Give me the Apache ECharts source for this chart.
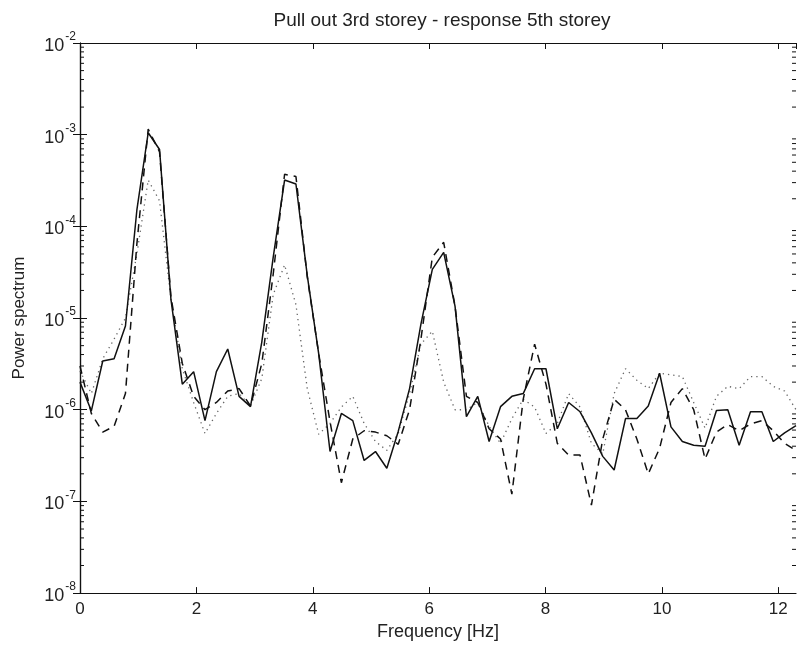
<!DOCTYPE html>
<html>
<head>
<meta charset="utf-8">
<script src="https://cdn.jsdelivr.net/npm/echarts@6/dist/echarts.min.js"></script>
<style>html,body{margin:0;padding:0;background:#fff}#c{width:798px;height:646px}</style>
</head>
<body>
<div id="c"></div>
<script>
// Frequency bins [Hz]
var freq = [0, 0.195, 0.391, 0.586, 0.781, 0.977, 1.172, 1.367, 1.563, 1.758,
  1.953, 2.148, 2.344, 2.539, 2.734, 2.930, 3.125, 3.320, 3.516, 3.711,
  3.906, 4.102, 4.297, 4.492, 4.688, 4.883, 5.078, 5.273, 5.469, 5.664,
  5.859, 6.055, 6.250, 6.445, 6.641, 6.836, 7.031, 7.227, 7.422, 7.617,
  7.813, 8.008, 8.203, 8.398, 8.594, 8.789, 8.984, 9.180, 9.375, 9.570,
  9.766, 9.961, 10.156, 10.352, 10.547, 10.742, 10.938, 11.133, 11.328, 11.523,
  11.719, 11.914, 12.109, 12.305];

// Solid line
var solid = [2.0e-6, 9.7e-7, 3.4e-6, 3.6e-6, 8.2e-6, 1.5e-4, 1.05e-3, 6.9e-4, 1.6e-5, 1.9e-6,
  2.6e-6, 7.6e-7, 2.6e-6, 4.6e-6, 1.4e-6, 1.08e-6, 5.5e-6, 4.6e-5, 3.2e-4, 2.9e-4,
  2.9e-5, 4.1e-6, 3.5e-7, 9.1e-7, 7.6e-7, 2.8e-7, 3.5e-7, 2.3e-7, 5.8e-7, 1.7e-6,
  8.6e-6, 3.4e-5, 5.2e-5, 1.35e-5, 8.4e-7, 1.4e-6, 4.5e-7, 1.08e-6, 1.4e-6, 1.5e-6,
  2.8e-6, 2.8e-6, 6.2e-7, 1.2e-6, 9.5e-7, 5.6e-7, 3.1e-7, 2.2e-7, 8.0e-7, 8.0e-7,
  1.1e-6, 2.5e-6, 6.5e-7, 4.5e-7, 4.1e-7, 4.0e-7, 9.8e-7, 1.0e-6, 4.1e-7, 9.5e-7,
  9.5e-7, 4.5e-7, 5.6e-7, 6.7e-7];

// Dashed line
var dashed = [3.0e-6, 9.1e-7, 5.7e-7, 6.6e-7, 1.5e-6, 6.4e-5, 1.15e-3, 6.5e-4, 1.7e-5, 3.2e-6,
  1.4e-6, 1.0e-6, 1.2e-6, 1.6e-6, 1.7e-6, 1.1e-6, 3.2e-6, 3.0e-5, 3.7e-4, 3.5e-4,
  2.8e-5, 4.1e-6, 7.4e-7, 1.6e-7, 4.8e-7, 5.9e-7, 5.7e-7, 5.2e-7, 4.2e-7, 1.0e-6,
  5.9e-6, 4.6e-5, 6.7e-5, 1.35e-5, 1.4e-6, 1.2e-6, 6.2e-7, 4.8e-7, 1.2e-7, 1.3e-6,
  5.2e-6, 1.9e-6, 4.3e-7, 3.2e-7, 3.2e-7, 9.1e-8, 4.8e-7, 1.3e-6, 1.0e-6, 4.8e-7,
  2.0e-7, 3.8e-7, 1.2e-6, 1.7e-6, 1.0e-6, 2.9e-7, 5.7e-7, 6.9e-7, 5.9e-7, 7.0e-7,
  7.6e-7, 5.9e-7, 4.3e-7, 3.6e-7];

// Dotted line
var dotted = [2.65e-6, 1.5e-6, 3.6e-6, 5.9e-6, 1.0e-5, 5.0e-5, 3.2e-4, 1.9e-4, 1.6e-5, 2.8e-6,
  1.2e-6, 5.5e-7, 9.1e-7, 1.4e-6, 1.5e-6, 1.1e-6, 2.2e-6, 1.8e-5, 3.8e-5, 1.4e-5,
  1.7e-6, 5.4e-7, 7.1e-7, 1.07e-6, 1.4e-6, 7.1e-7, 4.5e-7, 3.6e-7, 5.5e-7, 1.5e-6,
  5.2e-6, 7.2e-6, 2.0e-6, 1.0e-6, 1.0e-6, 1.2e-6, 6.6e-7, 4.3e-7, 8.0e-7, 1.3e-6,
  1.07e-6, 5.5e-7, 7.1e-7, 1.5e-6, 1.07e-6, 4.3e-7, 3.3e-7, 1.5e-6, 2.8e-6, 2.1e-6,
  1.7e-6, 2.5e-6, 2.4e-6, 2.3e-6, 1.2e-6, 6.3e-7, 1.4e-6, 1.8e-6, 1.7e-6, 2.3e-6,
  2.3e-6, 1.8e-6, 1.6e-6, 1.0e-6];

// Axis settings
var xTicks = [0, 2, 4, 6, 8, 10, 12];
var X_MIN = 0, X_MAX = 12.305;
var Y_MIN = 1e-8, Y_MAX = 1e-2;
var minorTickValues = [];
for (var e = -8; e < -2; e++) {
  for (var k = 2; k <= 9; k++) minorTickValues.push(k * Math.pow(10, e));
}

function pairs(ys) { return freq.map(function (f, i) { return [f, ys[i]]; }); }

var FONT = 'Liberation Sans, Arial, Helvetica, sans-serif';
var chart = echarts.init(document.getElementById('c'), null, { renderer: 'canvas' });

chart.setOption({
  backgroundColor: '#fff',
  animation: false,
  title: {
    text: 'Pull out 3rd storey - response 5th storey',
    left: 437, top: 6, textAlign: 'center',
    textStyle: { fontFamily: FONT, fontSize: 19, fontWeight: 'normal', color: '#222' }
  },
  grid: { left: 80, right: 2, top: 43, bottom: 51, containLabel: false },
  xAxis: [{
    type: 'value', min: X_MIN, max: X_MAX, interval: 2,
    name: 'Frequency [Hz]', nameLocation: 'middle', nameGap: 29,
    nameTextStyle: { fontFamily: FONT, fontSize: 18, color: '#222' },
    axisLine: { lineStyle: { color: '#111', width: 1.2 } },
    axisTick: { inside: true, length: 6, lineStyle: { color: '#111' } },
    axisLabel: { fontFamily: FONT, fontSize: 17, color: '#222', margin: 8, showMaxLabel: false },
    splitLine: { show: false }
  }, {
    type: 'value', position: 'top', min: X_MIN, max: X_MAX, interval: 2,
    axisLine: { lineStyle: { color: '#111', width: 1.2 } },
    axisTick: { inside: true, length: 6, lineStyle: { color: '#111' } },
    axisLabel: { show: false }, splitLine: { show: false }
  }],
  yAxis: [{
    type: 'log', logBase: 10, min: Y_MIN, max: Y_MAX,
    name: 'Power spectrum', nameLocation: 'middle', nameGap: 52, nameRotate: 90,
    nameTextStyle: { fontFamily: FONT, fontSize: 17, color: '#222' },
    axisLine: { lineStyle: { color: '#111', width: 1.2 } },
    axisTick: { inside: true, length: 7, lineStyle: { color: '#111' } },
    axisLabel: {
      margin: 4,
      formatter: function (v) { return '{b|10}{s|' + Math.round(Math.log10(v)) + '}'; },
      rich: {
        b: { fontFamily: FONT, fontSize: 18, color: '#222', lineHeight: 24, verticalAlign: 'bottom' },
        s: { fontFamily: FONT, fontSize: 12, color: '#222', lineHeight: 24, verticalAlign: 'top', padding: [0, 0, 0, 1] }
      }
    },
    splitLine: { show: false }
  }, {
    type: 'log', logBase: 10, min: Y_MIN, max: Y_MAX, position: 'right',
    axisLine: { lineStyle: { color: '#111', width: 1.2 } },
    axisTick: { inside: true, length: 7, lineStyle: { color: '#111' } },
    axisLabel: { show: false }, splitLine: { show: false }
  }],
  series: [{
    type: 'custom', silent: true, xAxisIndex: 0, yAxisIndex: 0, clip: false,
    data: minorTickValues.map(function (v) { return [X_MIN, v]; }),
    encode: { x: 0, y: 1 },
    renderItem: function (params, api) {
      var v = api.value(1);
      var p0 = api.coord([X_MIN, v]);
      var p1 = api.coord([X_MAX, v]);
      return { type: 'group', children: [
        { type: 'line', shape: { x1: p0[0], y1: p0[1], x2: p0[0] + 4, y2: p0[1] }, style: { stroke: '#111', lineWidth: 1 } },
        { type: 'line', shape: { x1: p1[0], y1: p1[1], x2: p1[0] - 4, y2: p1[1] }, style: { stroke: '#111', lineWidth: 1 } }
      ] };
    }
  }, {
    name: 'solid', type: 'line', data: pairs(solid), showSymbol: false, symbol: 'none',
    lineStyle: { color: '#111', width: 1.5, type: 'solid' }, z: 4
  }, {
    name: 'dashed', type: 'line', data: pairs(dashed), showSymbol: false, symbol: 'none',
    lineStyle: { color: '#111', width: 1.5, type: [8, 6] }, z: 3
  }, {
    name: 'dotted', type: 'line', data: pairs(dotted), showSymbol: false, symbol: 'none',
    lineStyle: { color: '#666', width: 1.3, type: [1.3, 4] }, z: 2
  }]
});
</script>
</body>
</html>
